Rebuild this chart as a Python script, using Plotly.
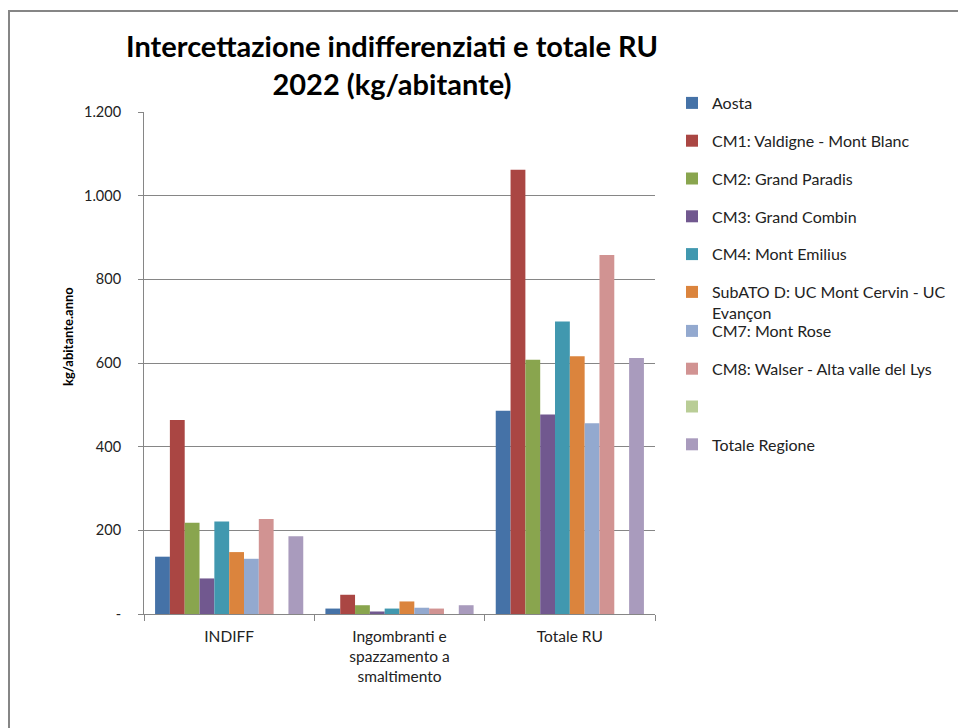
import plotly.graph_objects as go

categories = ["INDIFF", "Ingombranti e<br>spazzamento a<br>smaltimento", "Totale RU"]

series_names = [
    "Aosta",
    "CM1: Valdigne - Mont Blanc",
    "CM2: Grand Paradis",
    "CM3: Grand Combin",
    "CM4: Mont Emilius",
    "SubATO D: UC Mont Cervin - UC<br>Evançon",
    "CM7: Mont Rose",
    "CM8: Walser - Alta valle del Lys",
    "",
    "Totale Regione",
]

aosta = [137, 13, 486]
cm1 = [464, 46, 1062]
cm2 = [218, 21, 608]
cm3 = [85, 6, 477]
cm4 = [221, 13, 699]
subato_d = [148, 30, 616]
cm7 = [132, 15, 456]
cm8 = [227, 13, 858]
empty = [None, None, None]
totale_regione = [186, 21, 612]

series_values = [aosta, cm1, cm2, cm3, cm4, subato_d, cm7, cm8, empty, totale_regione]

colors = ["#4572A7", "#AA4643", "#89A54E", "#71588F", "#4198AF",
          "#DB843D", "#93A9CF", "#D19392", "#B9CD96", "#A99BBD"]

y_tickvals = [0, 200, 400, 600, 800, 1000, 1200]
y_ticktext = ["-", "200", "400", "600", "800", "1.000", "1.200"]

FONT = "Lato, 'Open Sans', sans-serif"

fig = go.Figure()
for i, (name, vals, col) in enumerate(zip(series_names, series_values, colors)):
    fig.add_trace(go.Bar(
        x=categories, y=vals, name=name,
        marker=dict(color=col, line=dict(width=0)),
        legendgroup=f"g{i}",
        legend="legend" if i < 6 else "legend2",
        showlegend=True,
    ))

# page offset of the figure div (body margin)
OFF = 8
# plot area in screen pixels: x 144..655, y 112..614
SL, SR, ST, SB = 144, 655, 112, 614
W, H = 966 - OFF, 728 - OFF
L, R, T, B = SL - OFF, SR - OFF, ST - OFF, SB - OFF
pw, ph = R - L, B - T

def px_x(x):
    return (x - SL) / pw

def px_y(y):
    return (SB - y) / ph

legend_common = dict(
    font=dict(family=FONT, size=16, color="#222"),
    bgcolor="rgba(0,0,0,0)",
    tracegroupgap=14,
    itemwidth=30,
    valign="top",
    xanchor="left", yanchor="top",
)

fig.update_layout(
    width=W, height=H,
    margin=dict(l=L, r=W - R, t=T, b=H - B, pad=0),
    paper_bgcolor="white", plot_bgcolor="white",
    barmode="group", bargap=0.13, bargroupgap=0,
    font=dict(family=FONT, size=14, color="#222"),
    title=dict(
        text="Intercettazione indifferenziati e totale RU<br>2022 (kg/abitante)",
        font=dict(family=FONT, size=29, color="#000", weight="bold"),
        x=px_x(392), xref="paper", xanchor="center",
        y=1 - 49 / H, yref="container", yanchor="top",
    ),
    legend=dict(x=px_x(672), y=px_y(86), **legend_common),
    legend2=dict(x=px_x(672), y=px_y(314), **legend_common),
    xaxis=dict(
        showline=True, linecolor="#868686", linewidth=1,
        ticks="outside", ticklen=6, tickcolor="#868686", tickson="boundaries",
        tickfont=dict(family=FONT, size=15.5, color="#222"),
        ticklabelstandoff=8,
        showgrid=False,
    ),
    yaxis=dict(
        range=[0, 1200],
        tickvals=y_tickvals, ticktext=y_ticktext,
        showline=True, linecolor="#868686", linewidth=1,
        ticks="outside", ticklen=5, tickcolor="#868686",
        showgrid=True, gridcolor="#868686", gridwidth=1,
        tickfont=dict(family=FONT, size=14.5, color="#222"),
        ticklabelstandoff=14,
        zeroline=False,
    ),
    annotations=[dict(
        text="<b>kg/abitante.anno</b>", textangle=-90,
        xref="paper", yref="paper", x=px_x(68), y=px_y(337),
        xanchor="center", yanchor="middle", showarrow=False,
        font=dict(family=FONT, size=13, color="#000"),
    )],
    shapes=[dict(
        type="rect", xref="paper", yref="paper",
        x0=px_x(9), y0=px_y(900), x1=px_x(1100), y1=px_y(11),
        line=dict(color="#868686", width=2), fillcolor="rgba(0,0,0,0)", layer="below",
    )],
)

fig.write_html("out.html")
